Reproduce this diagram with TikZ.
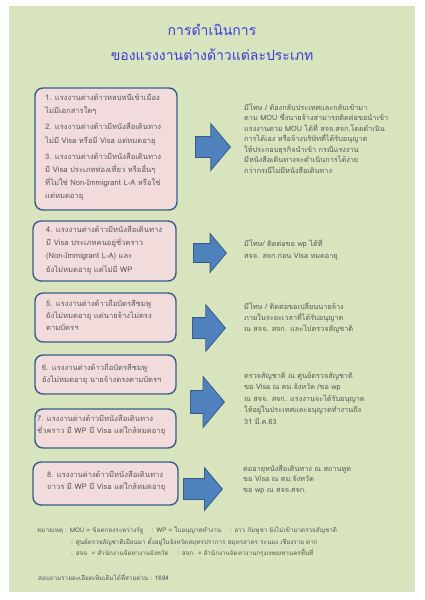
\documentclass[tikz,border=0pt]{standalone}
\usepackage{fontspec}
\setmainfont[Script=Thai]{Loma}
\usetikzlibrary{shapes.arrows}

\definecolor{bggreen}{RGB}{215,228,189}
\definecolor{boxpink}{RGB}{242,220,219}
\definecolor{boxline}{RGB}{56,93,138}
\definecolor{arrowblue}{RGB}{79,129,189}
\definecolor{titleblue}{RGB}{60,60,220}
\definecolor{textgrey}{RGB}{89,89,89}

\begin{document}
\begin{tikzpicture}[x=1pt,y=-1pt,
  casebox/.style={draw=boxline, line width=1.4pt, fill=boxpink,
    rounded corners=8pt, inner sep=0pt},
  casetext/.style={anchor=west, align=left, text=textgrey, inner sep=0pt,
    font=\fontsize{7.6}{12}\selectfont},
  bigarrow/.style={single arrow, draw=boxline, line width=0.8pt,
    fill=arrowblue, inner xsep=0pt, single arrow tip angle=100,
    anchor=tail},
  actiontext/.style={anchor=west, align=left, text=textgrey,
    inner sep=0pt, font=\fontsize{7.3}{10.5}\selectfont},
  notetext/.style={anchor=west, text=textgrey, inner sep=0pt,
    font=\fontsize{6.3}{7}\selectfont}]

\useasboundingbox (0,0) rectangle (424,600);

% Background panel
\fill[bggreen] (9,6) rectangle (415,592);

% Title
\node[text=titleblue, font=\fontsize{14}{16}\selectfont] (title1) at (212,30) {การดำเนินการ};
\node[text=titleblue, font=\fontsize{14}{16}\selectfont] (title2) at (212,55) {ของแรงงานต่างด้าวแต่ละประเภท};

% Case boxes (left column)
\node[casebox, minimum width=142, minimum height=122] (case1) at (106,149) {};
\node[casebox, minimum width=143, minimum height=60] (case4) at (104.5,251) {};
\node[casebox, minimum width=141, minimum height=49] (case5) at (105.5,317.5) {};
\node[casebox, minimum width=141, minimum height=39] (case6) at (105.5,374.5) {};
\node[casebox, minimum width=141, minimum height=39] (case7) at (105.5,428.5) {};
\node[casebox, minimum width=145, minimum height=43] (case8) at (105.5,483.5) {};

% Case texts
\node[casetext, font=\fontsize{7.6}{13.2}\selectfont] (case1txt) at (45,147.5)
  {1. แรงงานต่างด้าวหลบหนีเข้าเมือง\\ ไม่มีเอกสารใดๆ\\[3pt]
   2. แรงงานต่างด้าวมีหนังสือเดินทาง\\ ไม่มี Visa หรือมี Visa แต่หมดอายุ\\[3pt]
   3. แรงงานต่างด้าวมีหนังสือเดินทาง\\ มี Visa ประเภทท่องเที่ยว หรืออื่นๆ\\
   ที่ไม่ใช่ Non-Immigrant L-A หรือใช่\\ แต่หมดอายุ};
\node[casetext, font=\fontsize{7.6}{13.2}\selectfont] (case4txt) at (46,250)
  {4. แรงงานต่างด้าวมีหนังสือเดินทาง\\ มี Visa ประเภทคนอยู่ชั่วคราว\\
   (Non-Immigrant L-A) และ\\ ยังไม่หมดอายุ แต่ไม่มี WP};
\node[casetext] (case5txt) at (46,315)
  {5. แรงงานต่างด้าวถือบัตรสีชมพู\\ ยังไม่หมดอายุ แต่นายจ้างไม่ตรง\\ ตามบัตรฯ};
\node[casetext] (case6txt) at (42,374)
  {6. แรงงานต่างด้าวถือบัตรสีชมพู\\ ยังไม่หมดอายุ นายจ้างตรงตามบัตรฯ};
\node[casetext] (case7txt) at (37,425)
  {7. แรงงานต่างด้าวมีหนังสือเดินทาง\\ ชั่วคราว มี WP มี Visa แต่ใกล้หมดอายุ};
\node[casetext] (case8txt) at (47,481.5)
  {8. แรงงานต่างด้าวมีหนังสือเดินทาง\\ ถาวร มี WP มี Visa แต่ใกล้หมดอายุ};

% Block arrows
\node[bigarrow, minimum height=35, inner ysep=10pt, single arrow head extend=13pt] (arr1) at (195,147) {};
\node[bigarrow, minimum height=33, inner ysep=9pt, single arrow head extend=10pt] (arr2) at (193,253) {};
\node[bigarrow, minimum height=33, inner ysep=10pt, single arrow head extend=13pt] (arr3) at (192,328) {};
\node[bigarrow, minimum height=34, inner ysep=11pt, single arrow head extend=14pt] (arr4) at (190,402) {};
\node[bigarrow, minimum height=39, inner ysep=10pt, single arrow head extend=11pt] (arr5) at (183,489) {};

% What to do (right column)
\node[actiontext] (act1) at (244,138.5)
  {มีโทษ / ต้องกลับประเทศและกลับเข้ามา\\ ตาม MOU ซึ่งนายจ้างสามารถติดต่อขอนำเข้า\\
   แรงงานตาม MOU ได้ที่ สจจ.สจก.โดยดำเนิน\\ การได้เอง หรือจ้างบริษัทที่ได้รับอนุญาต\\
   ให้ประกอบธุรกิจนำเข้า กรณีแรงงาน\\ มีหนังสือเดินทางจะดำเนินการได้ง่าย\\
   กว่ากรณีไม่มีหนังสือเดินทาง};
\node[actiontext, font=\fontsize{7.3}{12}\selectfont] (act2) at (244,250)
  {มีโทษ/ ติดต่อขอ wp ได้ที่\\ สจจ. สจก.ก่อน Visa หมดอายุ};
\node[actiontext, font=\fontsize{7.3}{11}\selectfont] (act3) at (244,318)
  {มีโทษ / ติดต่อขอเปลี่ยนนายจ้าง\\ ภายในระยะเวลาที่ได้รับอนุญาต\\ ณ สจจ. สจก. และไปตรวจสัญชาติ};
\node[actiontext, font=\fontsize{7.3}{11.5}\selectfont] (act4) at (244,398)
  {ตรวจสัญชาติ ณ ศูนย์ตรวจสัญชาติ\\ ขอ Visa ณ ตม.จังหวัด /ขอ wp\\
   ณ สจจ. สจก. แรงงานจะได้รับอนุญาต\\ ให้อยู่ในประเทศและอนุญาตทำงานถึง\\ 31 มี.ค.63};
\node[actiontext] (act5) at (243,479.5)
  {ต่ออายุหนังสือเดินทาง ณ สถานทูต\\ ขอ Visa ณ ตม.จังหวัด\\ ขอ wp ณ สจจ.สจก.};

% Notes
\node[notetext] (note1) at (37,530)
  {หมายเหตุ : MOU = ข้อตกลงระหว่างรัฐ \ \ \ : WP = ใบอนุญาตทำงาน \ \ \ : ลาว กัมพูชา ยังไม่เข้ามาตรวจสัญชาติ};
\node[notetext] (note2) at (71,542)
  {: ศูนย์ตรวจสัญชาติเมียนมา ตั้งอยู่ในจังหวัดสมุทรปราการ สมุทรสาคร ระนอง เชียงราย ตาก};
\node[notetext] (note3) at (71,553)
  {: สจจ. = สำนักงานจัดหางานจังหวัด \ \ \ : สจก. = สำนักงานจัดหางานกรุงเทพมหานครพื้นที่};
\node[notetext] (hotline) at (38,577) {สอบถามรายละเอียดเพิ่มเติมได้ที่สายด่วน : 1694};

\end{tikzpicture}
\end{document}
